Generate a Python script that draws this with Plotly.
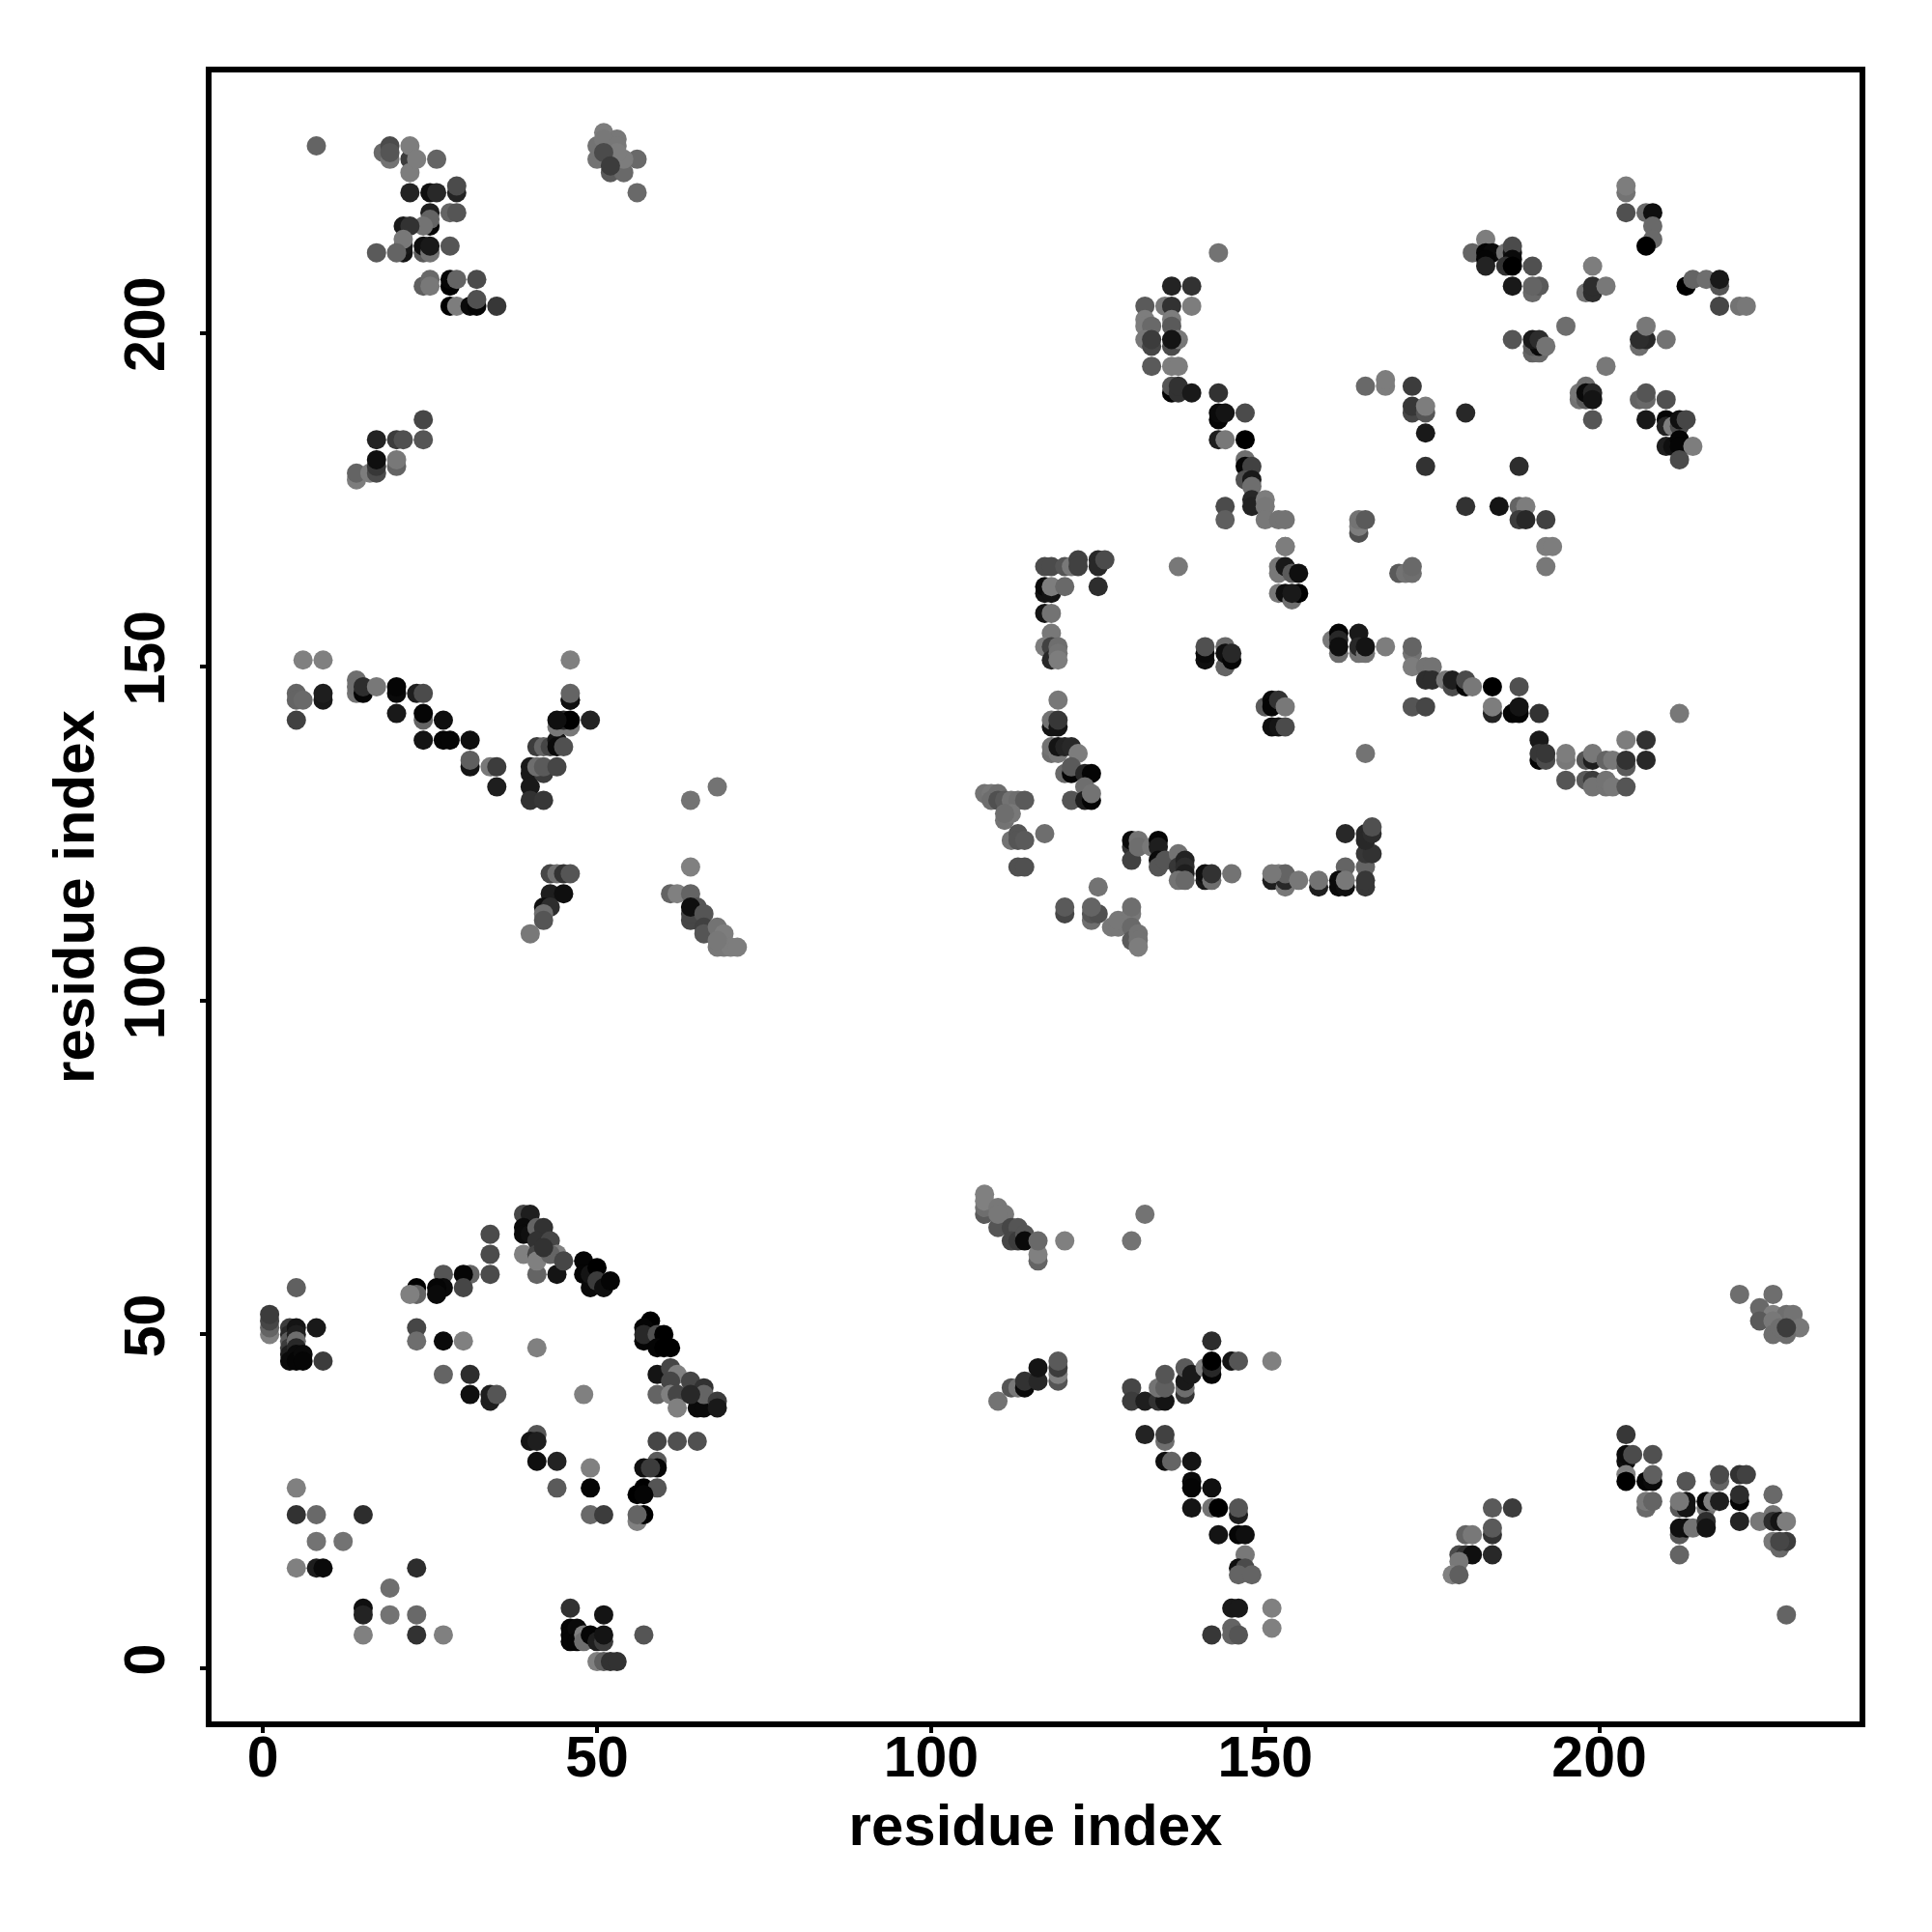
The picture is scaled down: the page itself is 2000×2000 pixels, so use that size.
import plotly.graph_objects as go

tick_values = [0, 50, 100, 150, 200]
tick_labels = ["0", "50", "100", "150", "200"]

a_x = [5,1,1,1,1,4,4,4,4,4,4,5,5,5,5,5,5,6,6,8,9,23,23,27,30,27,31,31,34,34,35,41,48]
a_y = [57,50,51,52,53,51,50,49,48,47,46,51,50,49,48,47,46,47,46,51,46,51,49,49,49,44,44,41,40,41,41,48,41]
a_g = [96,128,100,70,60,60,40,90,60,30,10,20,30,110,40,10,5,10,5,25,60,70,110,10,128,100,45,15,30,30,85,128,128]

b_x = [34,34,34,31,30,30,27,27,26,26,23,23,22,39,40,39,39,40,41,42,41,43,39,41,41,41,44,44,43,45,42]
b_y = [65,62,59,59,59,57,59,57,57,56,57,56,56,68,68,66,65,65,66,66,64,64,62,62,59,61,59,62,62,61,63]
b_g = [75,75,75,100,5,70,85,10,5,10,0,100,128,70,30,10,10,15,100,50,50,70,128,70,100,128,20,128,100,70,50]

c_x = [48,48,49,49,50,50,51,52,58,57,57,57,59,60,59,60,61,59,61,62,61,59,61,62,62,64,66,65,66,66,68,68,64]
c_y = [61,59,57,59,60,58,57,58,52,51,49,50,50,50,48,48,48,44,45,44,43,41,41,41,39,43,42,39,39,41,40,39,41]
c_g = [5,5,10,20,0,60,15,5,0,5,5,40,80,0,5,0,0,20,70,128,70,100,128,70,128,70,50,10,10,100,60,25,40]

d_x = [59,62,65,59,59,57,58,57,59,56,57,56,57,56,41,40,41,41,44,49,44,49,49,51]
d_y = [34,34,34,31,30,30,30,27,27,26,26,22,23,23,35,34,34,31,31,30,27,27,23,23]
d_g = [70,80,80,90,5,15,60,0,85,0,5,128,0,100,85,20,30,15,35,128,90,5,105,60]

e_x = [5,5,8,15,8,12,5,8,9,23,19,15,15,19,23,15,23,27,46,51,46,46,46,47,47,48,48,49,50,51,51,57,50,51,52,53]
e_y = [27,23,23,23,19,19,15,15,15,15,12,9,8,8,8,5,5,5,9,8,6,5,4,6,4,5,4,5,4,4,5,5,1,1,1,1]
e_g = [128,50,105,45,115,115,128,30,10,45,110,15,35,115,105,128,50,128,50,20,5,5,5,10,5,128,110,5,30,60,20,85,128,95,50,50]

f_x = [108,108,108,108,110,111,110,110,112,113,112,113,114,114,116,116,116,120,132,130]
f_y = [68,69,70,71,69,68,66,68,66,66,64,64,65,64,61,62,64,64,68,64]
f_g = [90,110,128,128,120,120,85,120,70,85,70,60,85,10,100,128,105,128,115,115]

g_x = [110,112,113,114,114,116,116,119,119,119,119,130,130,132,134,135,134,135,135]
g_y = [40,42,42,42,43,43,45,43,44,45,46,42,40,40,40,40,42,42,44]
g_g = [115,85,120,10,50,40,20,85,128,60,90,70,60,30,50,20,115,95,85]

h_x = [138,138,138,138,139,141,142,142,142,142,145,146,151]
h_y = [41,42,43,45,44,45,44,45,46,49,46,46,46]
h_g = [50,110,25,90,25,128,5,40,0,45,20,85,128]

i_x = [132,135,135,135,136,139,139,139,142,139,142,143,146,146,143,146,147,147,146,147,146,148,145,146,151,151,142,145,145,146]
i_y = [35,34,35,31,31,31,28,27,27,24,24,24,23,24,20,20,20,17,15,15,14,14,9,9,9,6,5,6,5,5]
i_g = [35,110,65,15,100,20,10,5,15,20,115,0,30,85,20,5,15,120,15,75,100,100,25,25,128,128,55,100,100,85]

j_x = [221,226,224,226,224,228,229,226,230,226,228,227,228]
j_y = [56,56,54,53,52,53,53,52,51,50,50,51,51]
j_g = [110,110,105,128,90,110,115,120,120,110,110,110,60]

k_x = [204,204,204,205,208,204,204,207,208,208,207,207,208,213,212,213,213,212,212,213,212,214,212]
k_y = [35,31,32,32,32,29,28,28,28,29,24,25,25,28,24,25,24,25,20,21,21,21,17]
k_g = [55,15,10,75,80,128,0,5,10,95,105,120,100,85,90,20,20,120,90,5,15,115,100]

l_x = [218,218,216,216,217,218,216,216,221,222,221,221,221,226,224,226,226,227,228,226,227,228,227,228]
l_y = [28,29,24,25,25,25,22,21,29,29,25,26,22,26,22,23,22,22,22,19,18,19,19,8]
l_g = [100,75,115,5,128,30,45,20,50,65,5,45,35,105,120,115,45,20,125,120,105,60,70,100]

m_x = [184,187,184,184,180,181,179,180,181,184,179,178,179]
m_y = [24,24,20,21,20,20,17,17,17,17,16,14,14]
m_g = [90,60,50,90,100,120,75,50,15,40,120,128,95]

n_x = [6,9,46,5,5,6,5,9,9,14,14,14,15,15,17,20,20,20,23,24,24,24,27,24,27,28,31,31,31,34,35,35]
n_y = [151,151,151,146,145,145,142,145,146,148,146,147,146,147,147,146,147,143,146,146,142,143,142,139,139,139,139,135,136,135,135,132]
n_g = [128,128,128,100,100,105,65,25,30,110,115,110,5,45,120,10,5,25,30,75,100,5,15,20,5,5,15,20,95,120,60,30]

o_x = [40,40,40,40,42,42,41,42,44,41,42,43,44,44,45,44,46,45,46,44,46,49,46,46,64,68,64]
o_y = [135,134,132,130,130,134,135,135,135,138,138,138,139,138,138,141,141,142,142,142,145,142,145,146,130,132,120]
o_g = [25,25,25,50,55,60,110,90,70,60,100,70,20,10,80,120,120,40,0,15,15,35,15,100,115,115,128]

p_x = [43,44,45,46,43,45,42,43,42,42,40,61,62,64,64,64,65,64,66,66,66,68,69,68,69,70,71,68]
p_y = [119,119,119,119,116,116,114,114,113,112,110,116,116,116,112,113,114,114,113,111,110,111,110,108,108,108,108,109]
p_g = [70,110,50,85,30,15,15,45,110,85,120,100,128,100,70,70,85,15,85,65,85,115,125,120,120,125,125,120]

q_x = [8,18,19,19,19,22,22,22,23,26,22,25,26,29,29]
q_y = [228,227,226,228,227,226,228,224,226,226,221,221,221,221,222]
q_g = [100,105,115,75,85,60,125,125,125,100,35,15,40,35,75]

r_x = [25,28,29,25,25,24,21,22,21,21,21,20,17,24,24,25,25,28]
r_y = [218,218,218,216,217,216,216,216,212,213,214,212,212,212,213,212,213,213]
r_g = [30,100,85,5,100,115,25,50,20,25,120,100,90,90,15,115,25,85]

s_x = [24,25,25,28,28,29,32,28,29,31,32,32,35,24,17,20,21,24,14,14,16,17,17,17,20,20]
s_y = [207,208,207,207,208,208,208,204,204,204,204,205,204,187,184,184,184,184,178,179,179,179,180,181,180,181]
s_g = [95,105,120,0,5,100,75,0,125,10,5,80,55,70,35,60,80,85,125,100,125,75,55,15,100,120]

t_x = [51,53,50,51,53,50,52,53,52,54,56,54,53,56,51,52]
t_y = [230,229,228,229,228,226,226,226,224,224,226,226,227,221,227,225]
t_g = [125,120,115,120,120,115,120,120,90,105,105,125,125,105,75,60]

u_x = [117,118,120,121,122,122,125,125,126,125,117,117,118,118,120,117,118,118,117,118,118,119,119,119]
u_y = [165,165,165,165,166,165,166,165,166,162,161,162,161,162,162,158,158,155,153,153,151,153,152,151]
u_g = [75,75,85,120,65,65,40,40,75,45,20,10,20,125,105,20,115,120,125,65,40,110,115,125]

v_x = [119,118,118,119,119,118,118,119,119,120,121,122,120,121,121,123,124,121,123,123,124,124]
v_y = [145,141,142,141,142,137,138,137,138,138,138,137,134,134,135,134,134,130,132,130,130,131]
v_g = [120,20,115,20,55,110,115,120,20,35,40,125,105,5,90,40,5,85,110,30,5,115]

w_x = [108,109,110,109,110,111,112,113,114,111,112,111,112,113,113,114,117,113,114]
w_y = [131,131,131,130,130,130,130,130,130,127,128,128,124,125,124,124,125,120,120]
w_g = [115,120,110,110,80,90,115,110,90,115,120,110,115,85,85,90,110,80,80]

x_x = [120,120,124,124,125,124,125,127,128,128,130,130,130,130,131,131,131]
x_y = [113,114,112,113,113,114,117,111,111,112,113,114,111,109,110,109,108]
x_g = [70,90,110,85,80,100,115,120,120,120,120,110,105,90,115,115,125]

y_x = [130,130,130,131,131,133,134,134,134,134,135,137,137,138,138,138,137,138,141,141,142,142,145]
y_y = [123,124,121,124,123,123,124,123,121,120,121,122,120,121,120,119,118,118,118,119,118,119,119]
y_g = [50,10,65,115,110,120,5,30,10,85,85,115,55,35,45,30,115,105,25,15,110,50,115]

z_x = [151,152,153,153,153,151,155,158,158,162,161,161,162,162,165,165,165,165,166,162,165,165,166,166]
z_y = [118,119,117,118,119,119,118,117,118,120,118,117,117,118,120,117,118,122,122,125,125,124,125,126]
z_g = [30,125,120,40,100,120,120,30,115,100,10,10,15,120,100,55,55,55,50,40,40,40,45,80]

aa_x = [141,141,141,144,144,144,145,145,137,153,152,152,153,154,155,152,153,154,155,154]
aa_y = [151,152,153,150,153,152,151,152,165,168,165,164,165,164,164,161,161,160,161,161]
aa_g = [15,10,80,100,105,15,5,40,120,120,120,120,25,90,15,120,15,110,0,25]

ab_x = [150,151,151,152,153,151,152,153,165,160,161,161,161,161,164,164,164,165,165,168]
ab_y = [144,145,144,145,144,141,141,141,137,154,152,155,154,153,155,152,153,152,153,153]
ab_g = [90,10,5,50,120,15,20,75,115,120,110,5,40,15,25,115,40,115,20,125]

ac_x = [143,136,139,132,135,136,139,132,132,133,136,136,132,133,133,136,137,136]
ac_y = [212,207,207,204,204,204,204,202,201,201,202,201,199,198,199,198,199,199]
ac_g = [115,35,50,90,120,50,125,125,125,105,125,90,120,70,60,75,120,20]

ad_x = [133,136,137,136,136,137,137,139,143,143,143,144,147,143,144,147]
ad_y = [195,195,195,191,192,191,192,191,191,187,188,188,188,184,184,184]
ad_g = [90,125,125,5,85,50,50,25,50,5,10,20,75,30,120,0]

ae_x = [147,147,148,147,148,148,148,148,150,150,144,144,150,152,153,153]
ae_y = [181,180,180,178,178,177,175,174,175,174,174,172,172,172,172,168]
ae_g = [110,5,65,80,25,110,40,35,125,120,75,95,120,115,115,125]

af_x = [164,164,164,165,165,168,168,172,172,172,174,174,174,174,180,180,170,171,172,172]
af_y = [170,171,172,172,192,192,193,192,188,189,188,189,185,180,188,174,164,164,164,165]
af_g = [80,125,115,90,105,125,125,60,70,55,85,125,25,50,40,50,90,115,110,105]

ag_x = [204,204,204,207,208,208,208,207,183,181,183,184,183,183,186,187,187,187,186,187,190,187,190,191,190]
ag_y = [221,222,218,218,218,216,214,213,214,212,212,212,211,210,212,212,213,211,210,210,210,207,206,207,207]
ag_g = [115,125,80,105,15,105,105,0,125,100,5,10,5,35,115,20,75,10,50,0,80,25,105,90,100]

ah_x = [199,198,199,199,201,213,214,216,218,218,218,221,222]
ah_y = [210,206,206,207,207,207,208,208,207,208,204,204,204]
ah_g = [125,115,45,45,120,0,100,110,85,25,70,115,120]

ai_x = [187,190,191,190,191,190,191,192,195,206,207,206,207,210,201]
ai_y = [199,197,197,198,198,199,199,198,201,198,199,199,201,199,195]
ai_g = [85,100,105,90,10,25,45,115,110,110,40,45,120,115,120]

aj_x = [197,197,198,198,198,199,199,199,206,207,207,210,207]
aj_y = [190,191,192,190,191,191,190,187,190,190,191,190,187]
aj_g = [115,120,110,90,10,40,20,85,100,105,85,80,25]

ak_x = [210,210,211,212,212,213,210,211,212,212,214,212]
ak_y = [187,186,186,186,187,187,183,183,184,183,183,181]
ak_g = [5,35,125,75,15,70,30,15,5,5,125,75]

al_x = [188,185,188,189,188,189,192,192,193,192]
al_y = [180,174,174,174,172,172,172,168,168,165]
al_g = [45,20,100,125,60,40,65,125,125,120]

am_x = [172,172,172,174,175,174,175,177,178,178,180,180,181,184,188,172,174]
am_y = [152,153,150,150,150,148,148,148,147,148,147,148,147,147,147,144,144]
am_g = [115,100,125,115,115,45,45,120,75,30,5,75,120,0,80,85,70]

an_x = [184,184,187,188,188,191,212,191,191,191,192,192]
an_y = [143,144,143,143,144,143,143,139,136,137,136,137]
an_g = [35,125,5,5,20,50,120,25,5,55,75,55]

ao_x = [195,195,195,198,199,199,198,199,199,201,202,201,201,202,204,207,204,204,207,204]
ao_y = [136,137,133,136,136,137,133,133,132,136,136,132,133,132,135,139,136,132,136,139]
ao_g = [120,125,85,85,30,120,90,60,115,100,120,115,115,120,90,50,50,85,40,125]

groups = [
    (a_x, a_y, a_g), (b_x, b_y, b_g), (c_x, c_y, c_g), (d_x, d_y, d_g), (e_x, e_y, e_g),
    (f_x, f_y, f_g), (g_x, g_y, g_g), (h_x, h_y, h_g), (i_x, i_y, i_g), (j_x, j_y, j_g),
    (k_x, k_y, k_g), (l_x, l_y, l_g), (m_x, m_y, m_g), (n_x, n_y, n_g), (o_x, o_y, o_g),
    (p_x, p_y, p_g), (q_x, q_y, q_g), (r_x, r_y, r_g), (s_x, s_y, s_g), (t_x, t_y, t_g),
    (u_x, u_y, u_g), (v_x, v_y, v_g), (w_x, w_y, w_g), (x_x, x_y, x_g), (y_x, y_y, y_g),
    (z_x, z_y, z_g), (aa_x, aa_y, aa_g), (ab_x, ab_y, ab_g), (ac_x, ac_y, ac_g), (ad_x, ad_y, ad_g),
    (ae_x, ae_y, ae_g), (af_x, af_y, af_g), (ag_x, ag_y, ag_g), (ah_x, ah_y, ah_g), (ai_x, ai_y, ai_g),
    (aj_x, aj_y, aj_g), (ak_x, ak_y, ak_g), (al_x, al_y, al_g), (am_x, am_y, am_g), (an_x, an_y, an_g),
    (ao_x, ao_y, ao_g),
]

FONT = "Liberation Sans"
fig = go.Figure()
for gx, gy, gg in groups:
    fig.add_trace(go.Scatter(
        x=gx, y=gy, mode="markers", showlegend=False, hoverinfo="skip",
        marker=dict(size=20, color=[f"rgb({v},{v},{v})" for v in gg], line=dict(width=0)),
    ))

axis = dict(
    tickmode="array", tickvals=tick_values, ticktext=tick_labels,
    showgrid=False, zeroline=False, showline=True, mirror=True,
    linecolor="black", linewidth=6, ticks="outside", ticklen=6, tickwidth=3.5, tickcolor="black",
    tickfont=dict(family=FONT, size=59, color="black", weight="bold"),
)
fig.update_xaxes(**axis, range=[-7.69, 238.95], ticklabelstandoff=-26,
                 title=dict(text="<b>residue index</b>", font=dict(family=FONT, size=60, color="black"), standoff=19))
fig.update_yaxes(**axis, range=[-7.96, 239.0], tickangle=-90, ticklabelstandoff=13,
                 title=dict(text="<b>residue index</b>", font=dict(family=FONT, size=60, color="black"), standoff=2))
fig.update_layout(
    width=2000, height=2000, autosize=False,
    margin=dict(l=211, r=82.5, t=67, b=226, pad=0),
    paper_bgcolor="white", plot_bgcolor="white",
)
fig.write_html("out.html")
